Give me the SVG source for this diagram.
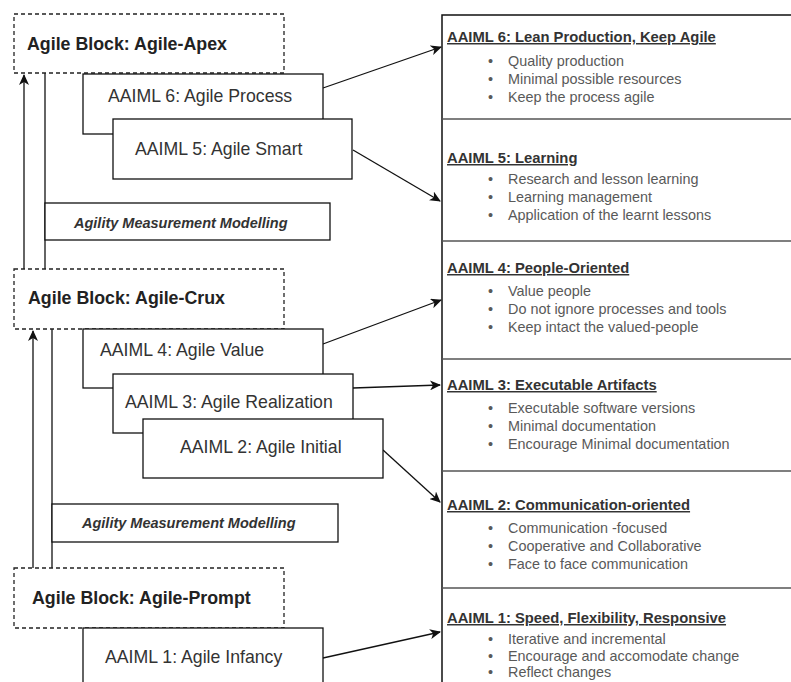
<svg xmlns="http://www.w3.org/2000/svg" width="791" height="682" viewBox="0 0 791 682">
<style>
.blk{fill:#fff;stroke:#222;stroke-width:1.3;stroke-dasharray:4 3}
.box{fill:#fff;stroke:#111;stroke-width:1.3}
.bt{font-family:"Liberation Sans",Arial,sans-serif;font-weight:bold;font-size:17.8px;fill:#222}
.lt{font-family:"Liberation Sans",Arial,sans-serif;font-size:17.7px;fill:#333}
.amm{font-family:"Liberation Sans",Arial,sans-serif;font-weight:bold;font-style:italic;font-size:14.5px;fill:#333}
.hd{font-family:"Liberation Sans",Arial,sans-serif;font-weight:bold;font-size:14.8px;fill:#333;text-decoration:underline}
.bl{font-family:"Liberation Sans",Arial,sans-serif;font-size:14.4px;fill:#595959}
.cn{fill:none;stroke:#111;stroke-width:1.3}
.div{stroke:#555;stroke-width:1.3}
</style>
<defs>
<marker id="ah" markerWidth="12" markerHeight="10" refX="10" refY="5" orient="auto" markerUnits="userSpaceOnUse">
<path d="M0,0 L11,5 L0,10 L3,5 z" fill="#111"/>
</marker>
</defs>
<rect width="791" height="682" fill="#fff"/>

<g id="panel">
<path d="M442,682 L442,15 L791,15" fill="none" stroke="#111" stroke-width="1.5"/>
<line class="div" x1="442" y1="119" x2="791" y2="119"/>
<line class="div" x1="442" y1="241" x2="791" y2="241"/>
<line class="div" x1="442" y1="359" x2="791" y2="359"/>
<line class="div" x1="442" y1="471" x2="791" y2="471"/>
<line class="div" x1="442" y1="588" x2="791" y2="588"/>
</g>

<g id="info6">
<text class="hd" x="447" y="42">AAIML 6: Lean Production, Keep Agile</text>
<text class="bl" x="488" y="66">•</text><text class="bl" x="508" y="66">Quality production</text>
<text class="bl" x="488" y="84">•</text><text class="bl" x="508" y="84">Minimal possible resources</text>
<text class="bl" x="488" y="102">•</text><text class="bl" x="508" y="102">Keep the process agile</text>
</g>
<g id="info5">
<text class="hd" x="447" y="163">AAIML 5: Learning</text>
<text class="bl" x="488" y="184">•</text><text class="bl" x="508" y="184">Research and lesson learning</text>
<text class="bl" x="488" y="202">•</text><text class="bl" x="508" y="202">Learning management</text>
<text class="bl" x="488" y="220">•</text><text class="bl" x="508" y="220">Application of the learnt lessons</text>
</g>
<g id="info4">
<text class="hd" x="447" y="273">AAIML 4: People-Oriented</text>
<text class="bl" x="488" y="296">•</text><text class="bl" x="508" y="296">Value people</text>
<text class="bl" x="488" y="314">•</text><text class="bl" x="508" y="314">Do not ignore processes and tools</text>
<text class="bl" x="488" y="332">•</text><text class="bl" x="508" y="332">Keep intact the valued-people</text>
</g>
<g id="info3">
<text class="hd" x="447" y="390">AAIML 3: Executable Artifacts</text>
<text class="bl" x="488" y="413">•</text><text class="bl" x="508" y="413">Executable software versions</text>
<text class="bl" x="488" y="431">•</text><text class="bl" x="508" y="431">Minimal documentation</text>
<text class="bl" x="488" y="449">•</text><text class="bl" x="508" y="449">Encourage Minimal documentation</text>
</g>
<g id="info2">
<text class="hd" x="447" y="510">AAIML 2: Communication-oriented</text>
<text class="bl" x="488" y="533">•</text><text class="bl" x="508" y="533">Communication -focused</text>
<text class="bl" x="488" y="551">•</text><text class="bl" x="508" y="551">Cooperative and Collaborative</text>
<text class="bl" x="488" y="569">•</text><text class="bl" x="508" y="569">Face to face communication</text>
</g>
<g id="info1">
<text class="hd" x="447" y="623">AAIML 1: Speed, Flexibility, Responsive</text>
<text class="bl" x="488" y="644">•</text><text class="bl" x="508" y="644">Iterative and incremental</text>
<text class="bl" x="488" y="661">•</text><text class="bl" x="508" y="661">Encourage and accomodate change</text>
<text class="bl" x="488" y="677">•</text><text class="bl" x="508" y="677">Reflect changes</text>
</g>

<g id="connectors">
<line class="cn" x1="45" y1="73" x2="45" y2="269"/>
<line class="cn" x1="52" y1="329" x2="52" y2="568"/>
<line class="cn" x1="24" y1="269" x2="24" y2="75" marker-end="url(#ah)"/>
<line class="cn" x1="33" y1="568" x2="33" y2="331" marker-end="url(#ah)"/>
<line class="cn" x1="323" y1="88" x2="441" y2="47" marker-end="url(#ah)"/>
<line class="cn" x1="353" y1="150" x2="440" y2="201" marker-end="url(#ah)"/>
<line class="cn" x1="323" y1="344" x2="441" y2="300" marker-end="url(#ah)"/>
<line class="cn" x1="353" y1="388" x2="440" y2="385" marker-end="url(#ah)"/>
<line class="cn" x1="383" y1="450" x2="440" y2="502" marker-end="url(#ah)"/>
<line class="cn" x1="323" y1="658" x2="440" y2="632" marker-end="url(#ah)"/>
</g>

<g id="amm1">
<rect class="box" x="45" y="203" width="285" height="37"/>
<text class="amm" x="74" y="228">Agility Measurement Modelling</text>
</g>
<g id="amm2">
<rect class="box" x="52" y="504" width="286" height="38"/>
<text class="amm" x="82" y="528">Agility Measurement Modelling</text>
</g>

<g id="apex">
<rect class="blk" x="14" y="14" width="270" height="59"/>
<text class="bt" x="27" y="50">Agile Block: Agile-Apex</text>
</g>
<g id="aaiml6">
<rect class="box" x="83" y="74" width="240" height="60"/>
<text class="lt" x="108" y="102">AAIML 6: Agile Process</text>
</g>
<g id="aaiml5">
<rect class="box" x="113" y="119" width="239" height="60"/>
<text class="lt" x="135" y="155">AAIML 5: Agile Smart</text>
</g>

<g id="crux">
<rect class="blk" x="14" y="269" width="270" height="60"/>
<text class="bt" x="28" y="304">Agile Block: Agile-Crux</text>
</g>
<g id="aaiml4">
<rect class="box" x="83" y="329" width="240" height="59"/>
<text class="lt" x="100" y="356">AAIML 4: Agile Value</text>
</g>
<g id="aaiml3">
<rect class="box" x="113" y="374" width="240" height="59"/>
<text class="lt" x="125" y="408">AAIML 3: Agile Realization</text>
</g>
<g id="aaiml2">
<rect class="box" x="143" y="419" width="240" height="59"/>
<text class="lt" x="180" y="453">AAIML 2: Agile Initial</text>
</g>

<g id="prompt">
<rect class="blk" x="14" y="568" width="270" height="60"/>
<text class="bt" x="32" y="604">Agile Block: Agile-Prompt</text>
</g>
<g id="aaiml1">
<rect class="box" x="83" y="628" width="240" height="70"/>
<text class="lt" x="105" y="663">AAIML 1: Agile Infancy</text>
</g>
</svg>
